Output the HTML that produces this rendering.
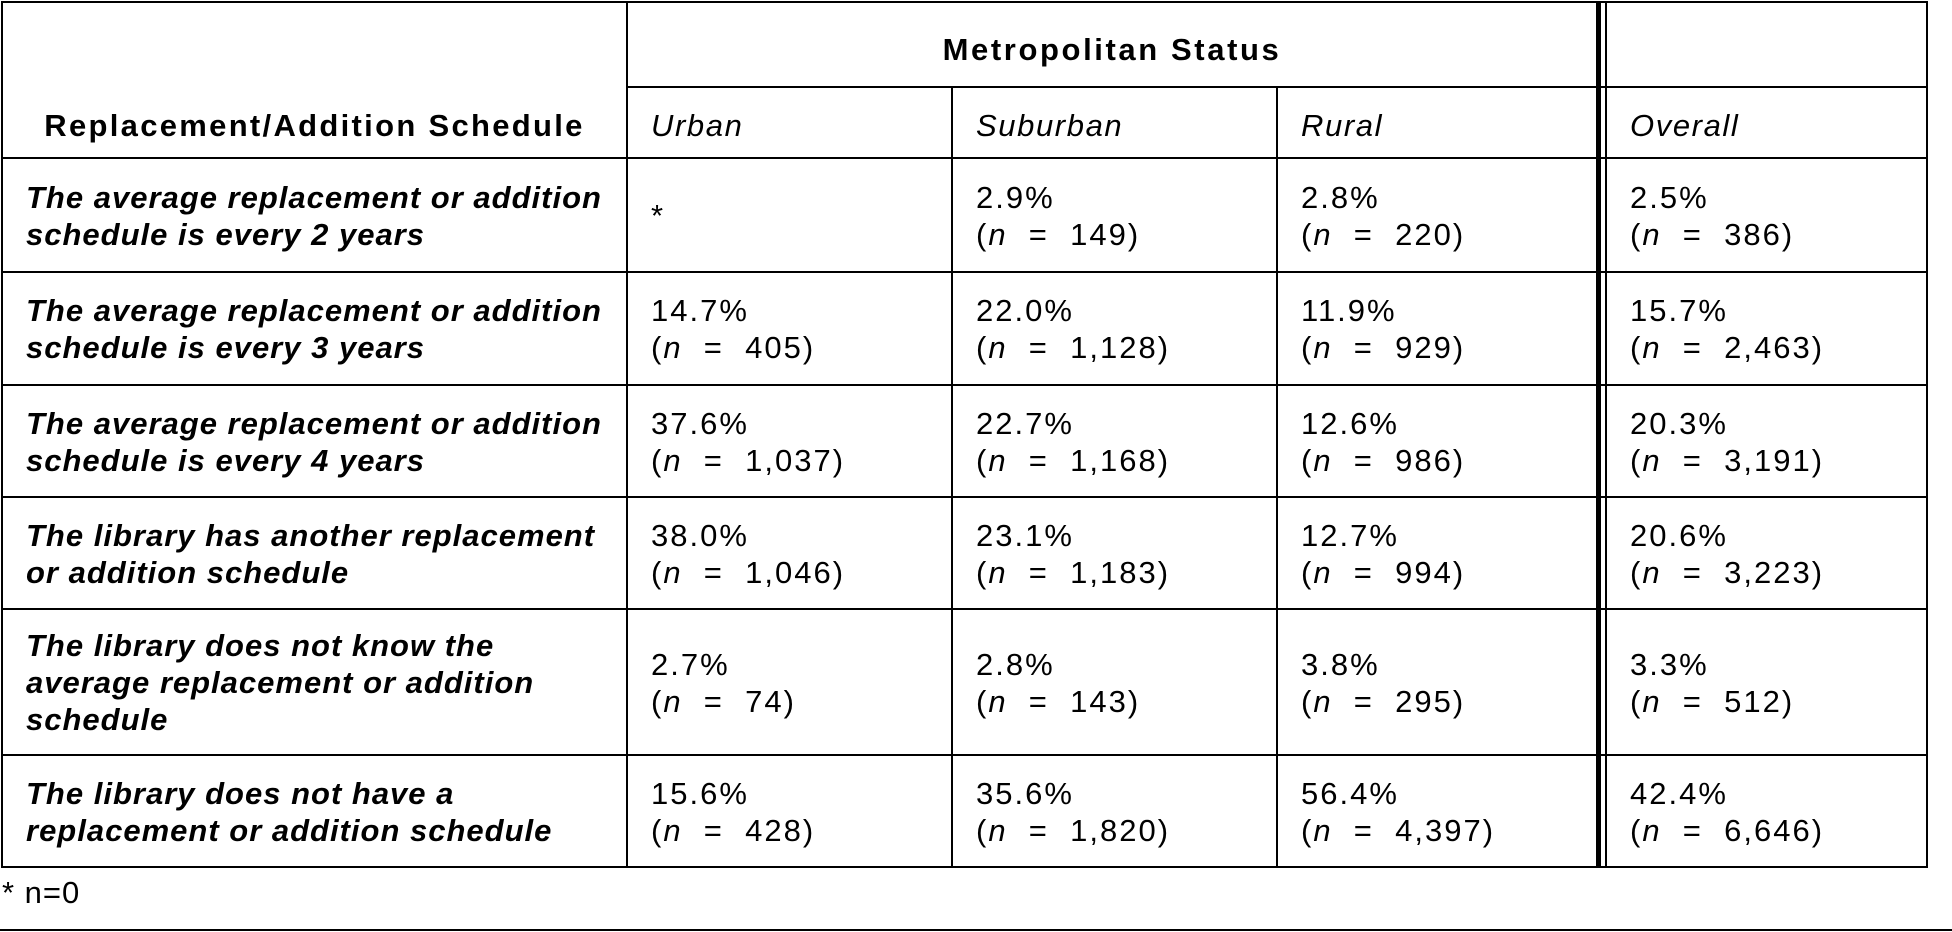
<!DOCTYPE html>
<html><head><meta charset="utf-8"><style>
body{margin:0;width:1952px;height:932px;background:#fff;position:relative;overflow:hidden;font-family:"Liberation Sans",sans-serif;color:#000}
.h{position:absolute;height:2px;background:#000}
.v{position:absolute;width:2px;background:#000}
.c{position:absolute;display:flex;flex-direction:column;justify-content:center;font-size:31px;line-height:37px;box-sizing:border-box;padding-left:23px;letter-spacing:2px;white-space:nowrap}
.l{font-weight:bold;font-style:italic;letter-spacing:1px;font-size:31px}
.b{font-weight:bold;letter-spacing:2.3px;align-items:center;padding:0}
.hd{letter-spacing:1.6px}
i{font-style:italic}
</style></head><body>
<div class="h" style="left:1px;top:1px;width:1927px"></div>
<div class="h" style="left:627px;top:86px;width:1301px"></div>
<div class="h" style="left:1px;top:157px;width:1927px"></div>
<div class="h" style="left:1px;top:271px;width:1927px"></div>
<div class="h" style="left:1px;top:384px;width:1927px"></div>
<div class="h" style="left:1px;top:496px;width:1927px"></div>
<div class="h" style="left:1px;top:608px;width:1927px"></div>
<div class="h" style="left:1px;top:754px;width:1927px"></div>
<div class="h" style="left:1px;top:866px;width:1927px"></div>
<div class="h" style="left:0;top:929px;width:1952px"></div>
<div class="v" style="left:1px;top:1px;height:867px"></div>
<div class="v" style="left:626px;top:1px;height:867px"></div>
<div class="v" style="left:951px;top:86px;height:782px"></div>
<div class="v" style="left:1276px;top:86px;height:782px"></div>
<div class="v" style="left:1596px;top:1px;height:867px;width:5px"></div>
<div class="v" style="left:1605px;top:1px;height:867px"></div>
<div class="v" style="left:1926px;top:1px;height:867px"></div>

<div class="c b" style="left:627px;top:7px;width:970px;height:84px;letter-spacing:2.6px"><div>Metropolitan Status</div></div>
<div class="c b" style="left:3px;top:90px;width:623px;height:70px"><div>Replacement/Addition Schedule</div></div>
<div class="c hd" style="left:628px;top:90px;width:323px;height:70px"><div><i>Urban</i></div></div>
<div class="c hd" style="left:953px;top:90px;width:323px;height:70px"><div><i>Suburban</i></div></div>
<div class="c hd" style="left:1278px;top:90px;width:318px;height:70px"><div><i>Rural</i></div></div>
<div class="c hd" style="left:1607px;top:90px;width:319px;height:70px"><div><i>Overall</i></div></div>

<div class="c l" style="left:3px;top:159px;width:623px;height:113px"><div>The average replacement or addition<br>schedule is every 2 years</div></div>
<div class="c" style="left:628px;top:159px;width:323px;height:113px"><div>*</div></div>
<div class="c" style="left:953px;top:159px;width:323px;height:113px"><div>2.9%<br>(<i>n</i>&nbsp; = &nbsp;149)</div></div>
<div class="c" style="left:1278px;top:159px;width:318px;height:113px"><div>2.8%<br>(<i>n</i>&nbsp; = &nbsp;220)</div></div>
<div class="c" style="left:1607px;top:159px;width:319px;height:113px"><div>2.5%<br>(<i>n</i>&nbsp; = &nbsp;386)</div></div>

<div class="c l" style="left:3px;top:273px;width:623px;height:112px"><div>The average replacement or addition<br>schedule is every 3 years</div></div>
<div class="c" style="left:628px;top:273px;width:323px;height:112px"><div>14.7%<br>(<i>n</i>&nbsp; = &nbsp;405)</div></div>
<div class="c" style="left:953px;top:273px;width:323px;height:112px"><div>22.0%<br>(<i>n</i>&nbsp; = &nbsp;1,128)</div></div>
<div class="c" style="left:1278px;top:273px;width:318px;height:112px"><div>11.9%<br>(<i>n</i>&nbsp; = &nbsp;929)</div></div>
<div class="c" style="left:1607px;top:273px;width:319px;height:112px"><div>15.7%<br>(<i>n</i>&nbsp; = &nbsp;2,463)</div></div>

<div class="c l" style="left:3px;top:386px;width:623px;height:111px"><div>The average replacement or addition<br>schedule is every 4 years</div></div>
<div class="c" style="left:628px;top:386px;width:323px;height:111px"><div>37.6%<br>(<i>n</i>&nbsp; = &nbsp;1,037)</div></div>
<div class="c" style="left:953px;top:386px;width:323px;height:111px"><div>22.7%<br>(<i>n</i>&nbsp; = &nbsp;1,168)</div></div>
<div class="c" style="left:1278px;top:386px;width:318px;height:111px"><div>12.6%<br>(<i>n</i>&nbsp; = &nbsp;986)</div></div>
<div class="c" style="left:1607px;top:386px;width:319px;height:111px"><div>20.3%<br>(<i>n</i>&nbsp; = &nbsp;3,191)</div></div>

<div class="c l" style="left:3px;top:498px;width:623px;height:111px"><div>The library has another replacement<br>or addition schedule</div></div>
<div class="c" style="left:628px;top:498px;width:323px;height:111px"><div>38.0%<br>(<i>n</i>&nbsp; = &nbsp;1,046)</div></div>
<div class="c" style="left:953px;top:498px;width:323px;height:111px"><div>23.1%<br>(<i>n</i>&nbsp; = &nbsp;1,183)</div></div>
<div class="c" style="left:1278px;top:498px;width:318px;height:111px"><div>12.7%<br>(<i>n</i>&nbsp; = &nbsp;994)</div></div>
<div class="c" style="left:1607px;top:498px;width:319px;height:111px"><div>20.6%<br>(<i>n</i>&nbsp; = &nbsp;3,223)</div></div>

<div class="c l" style="left:3px;top:610px;width:623px;height:145px"><div>The library does not know the<br>average replacement or addition<br>schedule</div></div>
<div class="c" style="left:628px;top:610px;width:323px;height:145px"><div>2.7%<br>(<i>n</i>&nbsp; = &nbsp;74)</div></div>
<div class="c" style="left:953px;top:610px;width:323px;height:145px"><div>2.8%<br>(<i>n</i>&nbsp; = &nbsp;143)</div></div>
<div class="c" style="left:1278px;top:610px;width:318px;height:145px"><div>3.8%<br>(<i>n</i>&nbsp; = &nbsp;295)</div></div>
<div class="c" style="left:1607px;top:610px;width:319px;height:145px"><div>3.3%<br>(<i>n</i>&nbsp; = &nbsp;512)</div></div>

<div class="c l" style="left:3px;top:756px;width:623px;height:111px"><div>The library does not have a<br>replacement or addition schedule</div></div>
<div class="c" style="left:628px;top:756px;width:323px;height:111px"><div>15.6%<br>(<i>n</i>&nbsp; = &nbsp;428)</div></div>
<div class="c" style="left:953px;top:756px;width:323px;height:111px"><div>35.6%<br>(<i>n</i>&nbsp; = &nbsp;1,820)</div></div>
<div class="c" style="left:1278px;top:756px;width:318px;height:111px"><div>56.4%<br>(<i>n</i>&nbsp; = &nbsp;4,397)</div></div>
<div class="c" style="left:1607px;top:756px;width:319px;height:111px"><div>42.4%<br>(<i>n</i>&nbsp; = &nbsp;6,646)</div></div>

<div class="c" style="left:0;top:872px;width:300px;height:40px;padding-left:2px;letter-spacing:1px"><div>* n=0</div></div>
</body></html>
